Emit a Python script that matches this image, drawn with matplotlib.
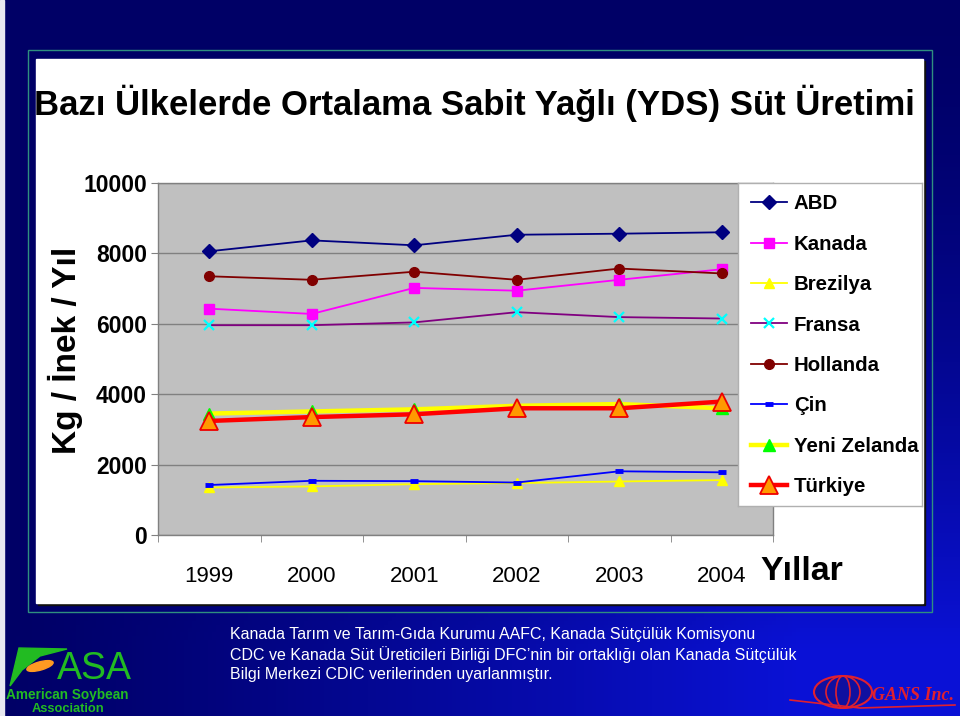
import numpy as np
import matplotlib
matplotlib.use('Agg')
import matplotlib.pyplot as plt
from matplotlib.patches import Rectangle, Ellipse, Polygon
from matplotlib import font_manager

plt.rcParams['font.family'] = ['Liberation Sans', 'DejaVu Sans']

# ---------------- data ----------------
years = ['1999', '2000', '2001', '2002', '2003', '2004']
abd = [8060, 8370, 8230, 8530, 8560, 8600]
kanada = [6430, 6280, 7020, 6940, 7250, 7550]
brezilya = [1350, 1380, 1445, 1475, 1520, 1560]
fransa = [5960, 5960, 6040, 6330, 6190, 6150]
hollanda = [7350, 7250, 7480, 7250, 7570, 7430]
cin = [1420, 1540, 1530, 1490, 1810, 1780]
yeni_zelanda = [3450, 3510, 3570, 3670, 3720, 3600]
turkiye = [3240, 3350, 3430, 3600, 3600, 3790]
y_ticks = [0, 2000, 4000, 6000, 8000, 10000]
series_names = ['ABD', 'Kanada', 'Brezilya', 'Fransa', 'Hollanda', 'Çin', 'Yeni Zelanda', 'Türkiye']

title = 'Bazı Ülkelerde Ortalama Sabit Yağlı (YDS) Süt Üretimi'
ylabel = 'Kg / İnek / Yıl'
xlabel = 'Yıllar'
source_lines = ['Kanada Tarım ve Tarım-Gıda Kurumu AAFC, Kanada Sütçülük Komisyonu',
                'CDC ve Kanada Süt Üreticileri Birliği DFC’nin bir ortaklığı olan Kanada Sütçülük',
                'Bilgi Merkezi CDIC verilerinden uyarlanmıştır.']

names = {f.name for f in font_manager.fontManager.ttflist}
narrow = 'Liberation Sans Narrow' if 'Liberation Sans Narrow' in names else 'Liberation Sans'

W, H = 960, 716
fig = plt.figure(figsize=(9.6, 7.16), dpi=100)


def fx(px):
    return px / W


def fy(py):
    return 1 - py / H


# ---------------- background ----------------
bg = fig.add_axes([0, 0, 1, 1])
bg.set_axis_off()
xx, yy = np.meshgrid(np.linspace(0, 1, 240), np.linspace(0, 1, 180))
t = np.clip(xx * 1.2, 0, 1) ** 1.2 * np.clip(yy * 1.1, 0, 1) ** 1.6
navy = np.array([0.0, 0.0, 0.40])
blue = np.array([0.04, 0.07, 0.84])
img = navy + (blue - navy) * t[..., None]
bg.imshow(img, extent=[0, 1, 0, 1], aspect='auto', origin='upper', zorder=0)
bg.set_xlim(0, 1)
bg.set_ylim(0, 1)
bg.add_patch(Rectangle((0, 0), fx(4), 1, color='#e8e8f0', zorder=1))

# panel
bg.add_patch(Rectangle((fx(28), fy(612)), fx(932 - 28), (612 - 50) / H,
                       fill=False, edgecolor='#2f8f7f', lw=1.0, zorder=1))
bg.add_patch(Rectangle((fx(38), fy(605)), fx(923 - 36), (603 - 59) / H,
                       color='#101010', zorder=1))
bg.add_patch(Rectangle((fx(36), fy(603)), fx(923 - 36), (603 - 59) / H,
                       color='white', zorder=2))

fig.text(fx(474), fy(103), title, ha='center', va='center', fontsize=25,
         fontweight='bold', family=[narrow, 'DejaVu Sans'])
fig.text(fx(65), fy(350), ylabel, ha='center', va='center', rotation=90,
         fontsize=24, fontweight='bold')
fig.text(fx(802), fy(571), xlabel, ha='center', va='center', fontsize=24.5,
         fontweight='bold')

# ---------------- main chart ----------------
ax = fig.add_axes([fx(158), fy(535), fx(773 - 158), (535 - 183) / H])
ax.set_facecolor('#c0c0c0')
x = np.arange(len(years))

styles = [
    (abd, dict(color='#000080', lw=1.3, marker='D', ms=7.5, mfc='#000080', mec='#000080')),
    (kanada, dict(color='#ff00ff', lw=1.3, marker='s', ms=7, mfc='#ff00ff', mec='#ff00ff')),
    (brezilya, dict(color='#ffff00', lw=1.3, marker='^', ms=7.5, mfc='#ffff00', mec='#ffff00')),
    (fransa, dict(color='#800080', lw=1.3, marker='x', ms=7, mew=1.6, mec='#00ffff')),
    (hollanda, dict(color='#800000', lw=1.3, marker='o', ms=7, mfc='#800000', mec='#800000')),
    (cin, dict(color='#0000ff', lw=1.3, marker='_', ms=6, mew=3.5, mec='#0000ff')),
    (yeni_zelanda, dict(color='#ffff00', lw=3.2, marker='^', ms=8, mfc='#00ff00', mec='#00ff00')),
    (turkiye, dict(color='#ff0000', lw=3.2, marker='^', ms=13, mfc='#ff9900', mec='#ee0000', mew=1.3)),
]
handles = []
for (vals, st), nm in zip(styles, series_names):
    ln, = ax.plot(x, vals, label=nm, **st)
    handles.append(ln)

ax.set_xlim(-0.5, len(years) - 0.5)
ax.set_ylim(0, 10000)
ax.set_yticks(y_ticks)
ax.set_yticklabels([str(v) for v in y_ticks], fontsize=16.5, fontweight='bold')
ax.yaxis.grid(True, color='#808080', lw=1)
ax.set_axisbelow(True)
ax.set_xticks(x)
ax.set_xticklabels(years, fontsize=16)
ax.set_xticks(np.arange(-0.5, len(years), 1), minor=True)
ax.tick_params(axis='x', which='major', length=0, pad=22)
ax.tick_params(axis='x', which='minor', length=5, color='#808080', direction='out')
ax.tick_params(axis='y', length=5, color='#808080', direction='out', pad=3)
for s in ax.spines.values():
    s.set_color('#808080')
    s.set_linewidth(1)

# ---------------- legend ----------------
lax = fig.add_axes([fx(738), fy(506), fx(922 - 738), (506 - 183) / H])
lax.set_facecolor('white')
lax.set_xticks([])
lax.set_yticks([])
for s in lax.spines.values():
    s.set_color('#b0b0b0')
    s.set_linewidth(1)
leg = lax.legend(handles, series_names, loc='upper left', bbox_to_anchor=(0.07, 0.965),
                 frameon=False, borderaxespad=0, borderpad=0,
                 handlelength=1.78, handletextpad=0.33, labelspacing=1.05,
                 prop={'weight': 'bold', 'size': 14.7})

# ---------------- footer ----------------
for i, line in enumerate(source_lines):
    fig.text(fx(230), fy(635 + 20 * i), line, ha='left', va='center', color='white',
             fontsize=11.5, family=[narrow, 'DejaVu Sans'])

# ASA logo
bg.add_patch(Polygon([(fx(19), fy(648)), (fx(67), fy(649)), (fx(40), fy(656)),
                      (fx(22), fy(670)), (fx(10), fy(686))], closed=True,
                     color='#22bb22', zorder=3))
bg.add_patch(Ellipse((fx(40), fy(666)), fx(28), 8 / H, angle=22,
                     color='#ff9922', zorder=4))
fig.text(fx(94), fy(669), 'ASA', ha='center', va='center', color='#22bb22',
         fontsize=27, family=[narrow, 'DejaVu Sans'])
fig.text(fx(67), fy(695), 'American Soybean', ha='center', va='center',
         color='#22bb22', fontsize=9.8, fontweight='bold')
fig.text(fx(68), fy(709), 'Association', ha='center', va='center',
         color='#22bb22', fontsize=9.3, fontweight='bold')

# GANS logo
cx, cy = 843, 692
bg.add_patch(Ellipse((fx(cx), fy(cy)), fx(58), 32 / H, facecolor='#1010a0',
                     edgecolor='#e02030', lw=1.5, zorder=3))
for wdt in (34, 14):
    bg.add_patch(Ellipse((fx(cx), fy(cy)), fx(wdt), 32 / H, fill=False,
                         edgecolor='#e02030', lw=1.2, zorder=4))
bg.plot([fx(790), fx(860), fx(955)], [fy(700), fy(708), fy(705)],
        color='#e02030', lw=1.2, zorder=4)
fig.text(fx(872), fy(696), 'GANS Inc.', ha='left', va='center', color='#e02030',
         fontsize=13, fontweight='bold', style='italic', family='Liberation Serif')

fig.savefig('out.png', dpi=100)
